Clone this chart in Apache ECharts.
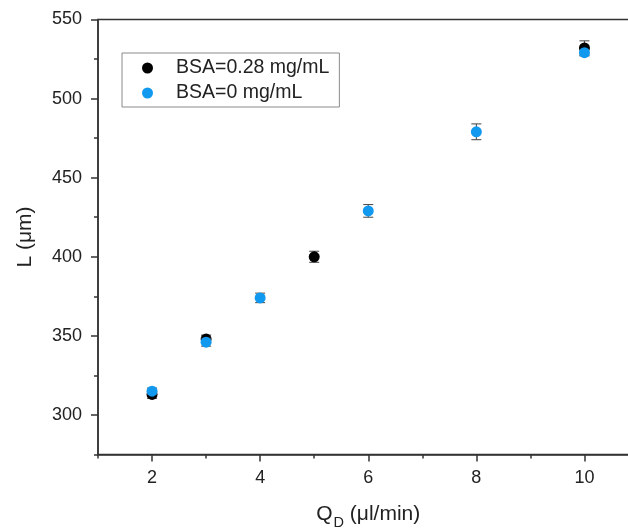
<!DOCTYPE html>
<html>
<head>
<meta charset="utf-8">
<script src="https://cdn.jsdelivr.net/npm/echarts@6/dist/echarts.min.js"></script>
<style>
  html, body { margin: 0; padding: 0; background: #fff; }
  #chart { width: 628px; height: 529px; }
</style>
</head>
<body>
<div id="chart"></div>
<script>
// Droplet length L versus dispersed-phase flow rate Q_D
const seriesNames = ['BSA=0.28 mg/mL', 'BSA=0 mg/mL'];

const bsa028Q = [2, 3, 5, 10];
const bsa028L = [313, 348, 400, 532];
const bsa028Err = [2.5, 2.5, 3.5, 4.5];

const bsa0Q = [2, 3, 4, 6, 8, 10];
const bsa0L = [315, 346, 374, 429, 479, 529];
const bsa0Err = [2, 2.5, 3, 4, 5, 2];

const xMajorTicks = [2, 4, 6, 8, 10];
const xMinorTicks = [1, 3, 5, 7, 9];
const yMajorTicks = [300, 350, 400, 450, 500, 550];
const yMinorTicks = [275, 325, 375, 425, 475, 525];

const FONT = 'Liberation Sans, Arial, Helvetica, sans-serif';
const AXIS_COLOR = '#333';
const TEXT_COLOR = '#222';
const COLORS = ['#000000', '#1199f0'];

function errorBarSeries(xs, ys, errs, z) {
  return {
    type: 'custom',
    silent: true,
    z: z,
    encode: { x: 0, y: [1, 2] },
    data: xs.map((x, i) => [x, ys[i] - errs[i], ys[i] + errs[i]]),
    renderItem(params, api) {
      const lo = api.coord([api.value(0), api.value(1)]);
      const hi = api.coord([api.value(0), api.value(2)]);
      const w = 5;
      const style = { stroke: '#444', lineWidth: 1 };
      return {
        type: 'group',
        children: [
          { type: 'line', shape: { x1: lo[0], y1: lo[1], x2: hi[0], y2: hi[1] }, style },
          { type: 'line', shape: { x1: hi[0] - w, y1: hi[1], x2: hi[0] + w, y2: hi[1] }, style },
          { type: 'line', shape: { x1: lo[0] - w, y1: lo[1], x2: lo[0] + w, y2: lo[1] }, style }
        ]
      };
    }
  };
}

function scatterSeries(name, xs, ys, color, z) {
  return {
    name: name,
    type: 'scatter',
    z: z,
    symbol: 'circle',
    symbolSize: 11,
    itemStyle: { color: color, opacity: 1 },
    data: xs.map((x, i) => [x, ys[i]])
  };
}

const chart = echarts.init(document.getElementById('chart'), null, { renderer: 'canvas' });

chart.setOption({
  animation: false,
  backgroundColor: '#fff',
  grid: {
    left: 98,
    top: 19.5,
    width: 540.5,
    height: 435,
    outerBoundsMode: 'none',
    containLabel: false,
    show: true,
    borderColor: AXIS_COLOR,
    borderWidth: 1.5,
    backgroundColor: 'transparent'
  },
  legend: {
    data: seriesNames,
    orient: 'vertical',
    left: 122,
    top: 53,
    itemWidth: 11,
    itemHeight: 11,
    itemGap: 5,
    padding: [5, 10, 4, 20],
    borderColor: '#8a8a8a',
    borderWidth: 1,
    icon: 'circle',
    textStyle: {
      fontFamily: FONT,
      fontSize: 19.5,
      lineHeight: 20,
      color: TEXT_COLOR,
      padding: [0, 0, 0, 18]
    }
  },
  xAxis: [
    {
      type: 'value',
      min: 1,
      max: 11,
      position: 'bottom',
      name: '{q|Q}{sub|D}{q| (μl/min)}',
      nameLocation: 'middle',
      nameGap: 46,
      nameTextStyle: {
        fontFamily: FONT,
        color: TEXT_COLOR,
        rich: {
          q: { fontFamily: FONT, fontSize: 21, color: TEXT_COLOR, verticalAlign: 'bottom', lineHeight: 24 },
          sub: { fontFamily: FONT, fontSize: 14.5, color: TEXT_COLOR, verticalAlign: 'bottom', lineHeight: 24, padding: [0, 0, -6, 1] }
        }
      },
      axisLine: { show: true, onZero: false, lineStyle: { color: AXIS_COLOR, width: 1.5 } },
      axisTick: { show: true, customValues: xMajorTicks, length: 7, lineStyle: { color: AXIS_COLOR, width: 1.5 } },
      axisLabel: { customValues: xMajorTicks, margin: 15, fontFamily: FONT, fontSize: 18, color: TEXT_COLOR },
      splitLine: { show: false }
    },
    {
      type: 'value',
      min: 1,
      max: 11,
      position: 'bottom',
      axisLine: { show: false },
      axisTick: { show: true, customValues: xMinorTicks, length: 4, lineStyle: { color: AXIS_COLOR, width: 1.5 } },
      axisLabel: { show: false },
      splitLine: { show: false }
    }
  ],
  yAxis: [
    {
      type: 'value',
      min: 275,
      max: 550,
      position: 'left',
      name: 'L (μm)',
      nameLocation: 'middle',
      nameGap: 62,
      nameTextStyle: { fontFamily: FONT, fontSize: 21, color: TEXT_COLOR },
      axisLine: { show: true, onZero: false, lineStyle: { color: AXIS_COLOR, width: 1.5 } },
      axisTick: { show: true, customValues: yMajorTicks, length: 7, lineStyle: { color: AXIS_COLOR, width: 1.5 } },
      axisLabel: { customValues: yMajorTicks, margin: 16, fontFamily: FONT, fontSize: 18, color: TEXT_COLOR },
      splitLine: { show: false }
    },
    {
      type: 'value',
      min: 275,
      max: 550,
      position: 'left',
      axisLine: { show: false },
      axisTick: { show: true, customValues: yMinorTicks, length: 4, lineStyle: { color: AXIS_COLOR, width: 1.5 } },
      axisLabel: { show: false },
      splitLine: { show: false }
    }
  ],
  series: [
    errorBarSeries(bsa028Q, bsa028L, bsa028Err, 2),
    scatterSeries(seriesNames[0], bsa028Q, bsa028L, COLORS[0], 3),
    errorBarSeries(bsa0Q, bsa0L, bsa0Err, 4),
    scatterSeries(seriesNames[1], bsa0Q, bsa0L, COLORS[1], 5)
  ]
});
</script>
</body>
</html>
